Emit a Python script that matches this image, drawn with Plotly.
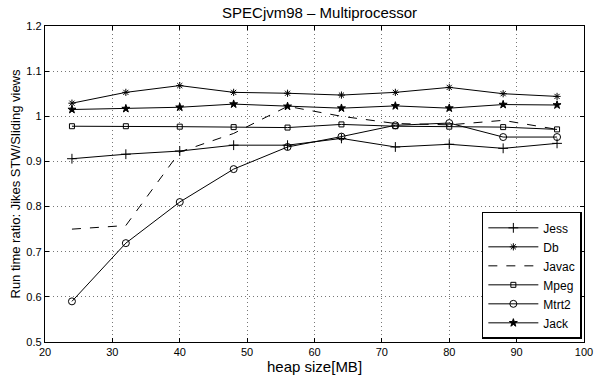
import plotly.graph_objects as go

heap = [24, 32, 40, 48, 56, 64, 72, 80, 88, 96]
jess = [0.906, 0.916, 0.923, 0.936, 0.936, 0.951, 0.932, 0.938, 0.929, 0.940]
db = [1.029, 1.053, 1.068, 1.053, 1.051, 1.047, 1.053, 1.064, 1.050, 1.044]
javac = [0.750, 0.758, 0.921, 0.962, 1.022, 1.000, 0.984, 0.981, 0.991, 0.971]
mpeg = [0.978, 0.978, 0.977, 0.976, 0.975, 0.982, 0.978, 0.977, 0.976, 0.971]
mtrt2 = [0.590, 0.719, 0.810, 0.883, 0.932, 0.955, 0.980, 0.985, 0.954, 0.954]
jack = [1.015, 1.017, 1.020, 1.027, 1.022, 1.018, 1.023, 1.018, 1.026, 1.025]

xticks = [20, 30, 40, 50, 60, 70, 80, 90, 100]
yticks = [0.5, 0.6, 0.7, 0.8, 0.9, 1.0, 1.1, 1.2]
ytick_labels = ["0.5", "0.6", "0.7", "0.8", "0.9", "1", "1.1", "1.2"]

series = [
    ("Jess", jess, "solid", "cross-thin-open", 7),
    ("Db", db, "solid", "asterisk-open", 6),
    ("Javac", javac, "dash", None, 0),
    ("Mpeg", mpeg, "solid", "square-open", 5),
    ("Mtrt2", mtrt2, "solid", "circle-open", 7),
    ("Jack", jack, "solid", "star", 6),
]

fig = go.Figure()
for name, ys, dash, sym, size in series:
    if sym:
        kw = dict(mode="lines+markers",
                  marker=dict(symbol=sym, size=size, color="black",
                              line=dict(color="black", width=1)))
    else:
        kw = dict(mode="lines")
    fig.add_trace(go.Scatter(x=heap, y=ys, name=name,
                             line=dict(color="black", width=1, dash=dash), **kw))

axis_common = dict(showline=True, linecolor="black", linewidth=1.3, mirror="ticks",
                   ticks="inside", ticklen=4, tickcolor="black",
                   showgrid=True, gridcolor="#777", griddash="1px,3px", gridwidth=1,
                   zeroline=False, tickfont=dict(size=11, family="Liberation Sans", color="black"))

fig.update_layout(
    width=603, height=376,
    margin=dict(l=45, r=10, t=26, b=34),
    paper_bgcolor="white", plot_bgcolor="white",
    font=dict(family="Liberation Sans", color="black"),
    title=dict(text="SPECjvm98 – Multiprocessor", x=0.53, xanchor="center",
               y=0.967, yanchor="middle", font=dict(size=15)),
    xaxis=dict(range=[20, 100], tickvals=xticks, ticktext=[str(t) for t in xticks],
               **axis_common),
    yaxis=dict(range=[0.5, 1.2], tickvals=yticks, ticktext=ytick_labels,
               title=dict(text="Run time ratio: Jikes STW/Sliding views", font=dict(size=13), standoff=2),
               **axis_common),
    legend=dict(x=0.996, y=0.01, xanchor="right", yanchor="bottom",
                bordercolor="black", borderwidth=1.5, bgcolor="white",
                font=dict(size=12), tracegroupgap=0, itemwidth=50),
    showlegend=True,
    annotations=[dict(text="heap size[MB]", xref="paper", yref="paper",
                      x=0.5, y=-0.078, xanchor="center", yanchor="middle",
                      showarrow=False, font=dict(size=15))],
)

fig.write_html("out.html", config={"displayModeBar": False},
               post_script="document.body.style.margin='0';document.body.style.overflow='hidden';")
